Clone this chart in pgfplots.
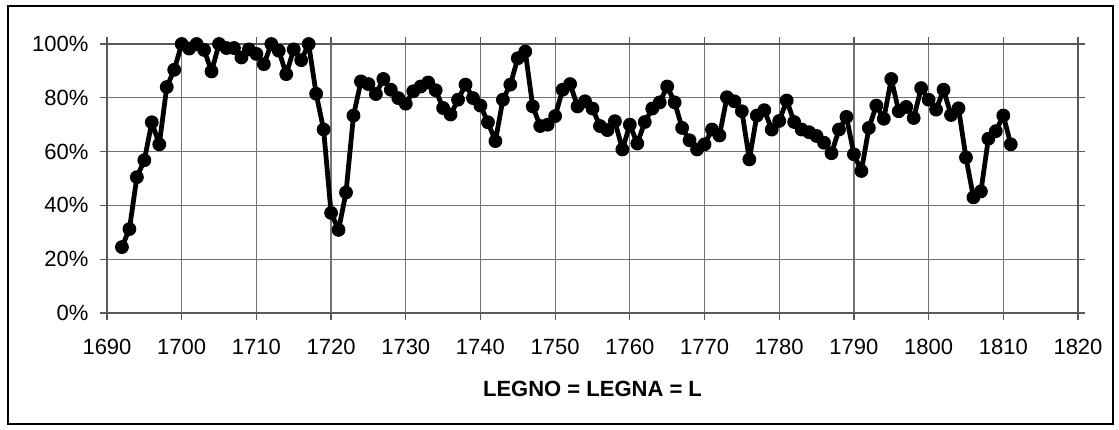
\documentclass[border=0pt]{standalone}
\usepackage{fontspec}
\setmainfont{Liberation Sans}
\usepackage{pgfplots}
\pgfplotsset{compat=1.18}

\pgfplotstableread{
year share
1692 24.5
1693 31.2
1694 50.5
1695 56.8
1696 70.9
1697 62.7
1698 84
1699 90.4
1700 100
1701 98.3
1702 100
1703 97.8
1704 89.8
1705 100
1706 98.5
1707 98.5
1708 95
1709 98
1710 96.3
1711 92.5
1712 100
1713 97.5
1714 88.8
1715 98
1716 94
1717 100
1718 81.5
1719 68.2
1720 37.2
1721 30.9
1722 44.8
1723 73.4
1724 86.1
1725 85.1
1726 81.4
1727 87
1728 83
1729 79.9
1730 77.8
1731 82.4
1732 84.2
1733 85.7
1734 82.8
1735 76.2
1736 73.8
1737 79.3
1738 84.9
1739 79.9
1740 77.1
1741 70.9
1742 63.9
1743 79.3
1744 84.9
1745 94.7
1746 97.2
1747 76.8
1748 69.5
1749 70
1750 73.2
1751 83
1752 85.1
1753 76.8
1754 78.7
1755 76
1756 69.5
1757 68
1758 71.3
1759 60.8
1760 70
1761 63
1762 71
1763 76
1764 78.3
1765 84.2
1766 78.3
1767 68.8
1768 64.2
1769 60.8
1770 62.7
1771 68.2
1772 66
1773 80.2
1774 78.7
1775 75
1776 57.1
1777 73.4
1778 75.4
1779 68.2
1780 71.4
1781 79
1782 71
1783 68.2
1784 67.2
1785 65.8
1786 63.3
1787 59.4
1788 68.2
1789 72.9
1790 59
1791 52.8
1792 68.8
1793 77.1
1794 72.2
1795 87
1796 75
1797 76.6
1798 72.5
1799 83.6
1800 79.3
1801 75.6
1802 83
1803 73.6
1804 76.1
1805 57.8
1806 43
1807 45.2
1808 64.8
1809 67.6
1810 73.4
1811 62.7
}\legna

\begin{document}
\begin{tikzpicture}
% page and outer frame (1 px = 0.5pt)
\path[use as bounding box] (-53.5pt,-58pt) rectangle (506pt,156.5pt);
\draw[black, line width=0.7pt] (-49.5pt,-55.5pt) rectangle (503pt,153.5pt);
\begin{axis}[
    at={(0,0)}, anchor=south west,
    scale only axis,
    width=485.5pt, height=134.5pt,
    xmin=1690, xmax=1820,
    ymin=0, ymax=100,
    xtick={1690,1700,...,1820},
    ytick={0,20,...,100},
    yticklabel={\pgfmathprintnumber{\tick}\%},
    /pgf/number format/assume math mode=true,
    /pgf/number format/1000 sep={},
    tick label style={font=\fontsize{11pt}{13pt}\selectfont, black},
    xticklabel style={yshift=-6pt},
    yticklabel style={xshift=-2.3pt},
    tick align=outside,
    major tick length=3.5pt,
    tick style={black!65, line width=0.6pt},
    axis line style={black!65, line width=0.6pt},
    grid=major,
    major grid style={black!55, line width=0.6pt},
    xlabel={LEGNO = LEGNA = L},
    xlabel style={font=\fontsize{11pt}{13pt}\selectfont\bfseries,
        at={(axis description cs:0.5,0)}, anchor=center, yshift=-37.8pt},
]
\addplot[black, line width=2.4pt, line join=round, mark=*, mark size=3.2pt,
    mark options={line width=0.5pt}] table[x=year, y=share] {\legna};
\end{axis}
\end{tikzpicture}
\end{document}
